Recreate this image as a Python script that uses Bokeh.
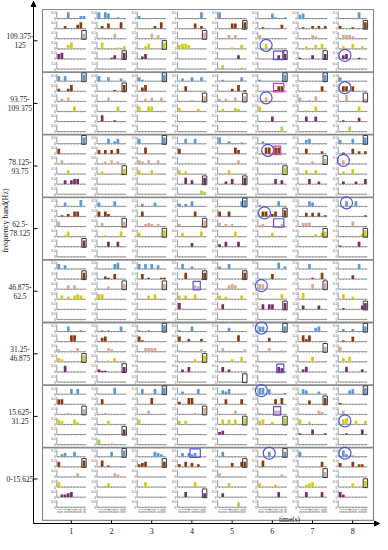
import numpy as np
from bokeh.plotting import figure
from bokeh.models import Range1d, Arrow, NormalHead
from bokeh.core.properties import value
from bokeh.embed import file_html
from bokeh.resources import INLINE

# ---------------- data ----------------
FREQ_LINE1 = ["109.375-", "93.75-", "78.125-", "62.5-", "46.875-", "31.25-", "15.625-", "0-15.625"]
FREQ_LINE2 = ["125", "109.375", "93.75", "78.125", "62.5", "46.875", "31.25", ""]
TIME_LABELS = ["1", "2", "3", "4", "5", "6", "7", "8"]
CAT_LABELS = ["0.1", "0.2", "0.3", "0.4", "0.5", "0.6", "0.7", "0.8", "0.9"]
SERIES_COLORS = ["#5b9bd5", "#8b3a12", "#d8ab98", "#d6cb1c", "#7a2c6a", "#a6d64a"]

# heights x0.1, one string per frequency band (top -> bottom), 8 groups = time 1..8, 9 bars each
BLUE = [
    "000500022 505400100 200000000 000000050 500000000 000041001 340000000 000000500",
    "404000005 400300020 310000005 020030030 010000030 100000005 000000005 300000000",
    "000000005 000402400 400000005 004004000 500200010 020000000 003400000 300040005",
    "003000050 300004000 020003000 202040000 000000045 100000400 000430000 004004000",
    "403000000 000004500 404040300 040020000 200400000 000000502 000400000 000000400",
    "000400010 010100040 100100005 100040000 000300000 440000004 000003400 020020004",
    "000040400 000005000 040004005 020000400 032400000 550400001 043000200 000340005",
    "023004000 000040005 000004320 030323000 040000000 000400004 400000000 052010000",
]
BROWN = [
    "002000350 020400050 000002050 000004020 000044005 010000030 010020202 200010005",
    "200250000 000001005 035000000 004000000 000020501 000001440 000000040 044040000",
    "400000000 303030400 005000000 400000000 000005300 005505500 004000020 010040202",
    "010204400 404200000 040000000 000004000 400400000 044024005 003030301 000000001",
    "000000005 002104000 040100011 005000005 000000005 000040000 000010050 000030000",
    "000055000 034000000 410000000 400200020 000000500 000300000 052500000 010040000",
    "440000000 040000000 000050000 200550000 004000040 000004050 000300005 100000000",
    "400000005 050100000 234000004 204030200 000030044 050000000 000000040 300040220",
]
TAN = [
    "000000004 010004000 000040300 000000005 000303000 300000000 000032000 033320000",
    "020300000 000300000 002030030 000010004 202003004 003000000 300104000 005000002",
    "030010000 002030200 320300300 000100000 000000300 000000000 000020004 030000000",
    "400000000 030000004 002320200 200000005 302020000 120000020 033300000 000040000",
    "000303000 000200004 000000004 000003200 000343000 440000000 000040005 000000000",
    "200010300 000320000 003333000 100000020 030100002 000300010 000000004 400000000",
    "000100004 001000000 000300000 000001005 000003000 100003300 000000320 030000000",
    "000000300 000003200 000000000 000000000 300000000 000000020 000000004 000000000",
]
YELLOW = [
    "000350000 050000102 002400005 344300000 000010030 004000000 002003040 020040020",
    "000004000 000000400 400440000 300000200 020003200 400000000 001004000 000000400",
    "000300000 020000004 300030000 302000000 000300000 000000005 003003000 020040000",
    "001400000 001000040 300000005 030000040 000004000 000030000 000002034 000000025",
    "030203430 440000000 000304000 303004000 302000030 100000040 050000000 040020000",
    "320000005 000103000 000000000 000002005 000020040 000000000 000040000 030400000",
    "430004200 000300000 400000000 303000000 040404005 340020005 400200000 045003003",
    "400000000 001300000 004000000 000004000 000300000 300002000 002340000 000030005",
]
PURPLE = [
    "450000000 000013005 024000000 000000000 000000300 000000304 100030004 034000100",
    "000000000 050001000 000000000 000000000 000000000 000040000 004004000 010000300",
    "003034400 000000000 000000000 005030005 002040005 000004030 000400200 020002004",
    "000000005 000400400 000000000 000030000 204000400 000000000 000000000 100000400",
    "000000000 000000000 000000000 500000000 040000000 040440005 030000300 010000035",
    "005000000 211000004 000000000 020400000 040200000 000000430 024000000 004000020",
    "000000000 000000004 000000000 000000000 230000000 000000000 100040001 001000040",
    "022340000 000000000 000000000 004000003 030000000 000000400 004000040 420000000",
]
GREEN = [
    "000000000 000000000 000000000 000000000 030000010 000000000 000000000 000000000",
    "000000000 000000000 000000000 000000000 000000000 000000040 000000000 000400000",
    "000000000 000000000 000000000 000000032 000000000 000000000 000000000 000000000",
    "000000000 000000000 000000000 000000000 000000000 000000000 000000000 000000000",
    "000000000 000000000 000000000 000000000 000000000 000000000 000000000 000000000",
    "000000000 000000000 000000000 000000000 000000000 000000000 000000000 000000000",
    "000000000 400010000 000000000 000000000 000000000 000000000 000000000 000000000",
    "000000000 000000000 000000000 000000000 000000400 000000000 000000000 000000000",
]
# row (0 blue .. 5 green) of the boxed last bar, per band, per time
BOX_ROW = ["24321441", "01022002", "03044320", "42320133",
           "12211424", "34035020", "24023310", "10141023"]
# circles: (band, time, row, bar position)
CIRCLES = [(0, 5, 3, 2), (0, 7, 4, 1.5), (1, 5, 2, 2), (1, 7, 1, 1.5), (2, 5, 1, 2.5),
           (2, 7, 2, 1), (3, 5, 1, 1.5), (3, 7, 0, 2), (4, 5, 2, 0.5), (5, 5, 0, 0.5),
           (6, 5, 0, 0.5), (6, 7, 3, 1.5), (7, 5, 0, 3), (7, 7, 0, 1.5)]
# squares: (band, time, row, first bar, last bar, colour)
SQUARES = [(0, 5, 4, 5, 7, "#5a4fe0"), (1, 5, 1, 5, 7, "#d23cd2"), (2, 5, 1, 5, 6, "#d23cd2"),
           (3, 5, 2, 5, 7, "#5a4fe0"), (4, 3, 2, 5, 6, "#5a4fe0"), (5, 5, 4, 6, 7, "#5a4fe0"),
           (6, 5, 2, 5, 6, "#5a4fe0"), (7, 3, 0, 4, 6, "#5a4fe0")]

# ---------------- layout ----------------
W, H = 380, 534
GX0, GX1, GY0 = 50, 381, 17
BAND_H = 62.6
GY1 = GY0 + 8 * BAND_H + 10
AX0, COL_W = 64.3, 40.2
ROW_H, ROW_BASE = 10.1, 9.0
CAT_OFF, CAT_STEP = 2.0, 3.15
UNIT = 12.5
OAX, OAY = 41, 531
FONT = value("Liberation Serif")

def axis_x(c):
    return AX0 + c * COL_W

def cat_x(c, k):
    return axis_x(c) + CAT_OFF + k * CAT_STEP

def base_y(b, r):
    return GY0 + b * BAND_H + ROW_BASE + r * ROW_H

p = figure(width=W, height=H, output_backend="svg", toolbar_location=None,
           x_range=Range1d(8, 8 + W), y_range=Range1d(8 + H, 8),
           min_border=0)
p.axis.visible = False
p.grid.visible = False
p.outline_line_color = None
p.background_fill_color = "white"

# grid frame and band separators
p.quad(left=[GX0], right=[GX1], top=[GY0], bottom=[GY1], fill_color=None,
       line_color="#8a8a8a", line_width=1.2)
sep_y = [GY0 + b * BAND_H for b in range(1, 8)]
p.segment(x0=[GX0] * 7, x1=[GX1] * 7, y0=sep_y, y1=sep_y, line_color="#8a8a8a", line_width=1.8)

# small sub-axes
vx, vy0, vy1, hx0, hx1, hy = [], [], [], [], [], []
tx, ty0, ty1 = [], [], []
lab_x, lab_y, lab_t = [], [], []
for b in range(8):
    for c in range(8):
        for r in range(6):
            ax = axis_x(c)
            by = base_y(b, r)
            vx.append(ax); vy0.append(by - 7.0); vy1.append(by)
            hx0.append(ax); hx1.append(cat_x(c, 8) + 2.0); hy.append(by)
            for k in range(9):
                tx.append(cat_x(c, k)); ty0.append(by); ty1.append(by + 1.0)
            lab_x += [ax - 1.0, ax - 1.0]
            lab_y += [by - 6.0, by]
            lab_t += ["0.5", "0"]
p.segment(x0=vx, x1=vx, y0=vy0, y1=vy1, line_color="#555555", line_width=0.6)
p.segment(x0=hx0, x1=hx1, y0=hy, y1=hy, line_color="#555555", line_width=0.6)
p.segment(x0=tx, x1=tx, y0=ty0, y1=ty1, line_color="#666666", line_width=0.6)
p.text(x=lab_x, y=lab_y, text=lab_t, text_font=FONT, text_font_size="3.6px",
       text_align="right", text_baseline="middle", text_color="#444444")

# bars
series = [BLUE, BROWN, TAN, YELLOW, PURPLE, GREEN]
bx, btop, bbot, bcol = [], [], [], []
for r, ser in enumerate(series):
    for b, line in enumerate(ser):
        for c, grp in enumerate(line.split()):
            for k, ch in enumerate(grp):
                v = int(ch) / 10.0
                if v > 0:
                    by = base_y(b, r)
                    bx.append(cat_x(c, k)); btop.append(by - v * UNIT); bbot.append(by)
                    bcol.append(SERIES_COLORS[r])
p.vbar(x=bx, width=2.7, top=btop, bottom=bbot, fill_color=bcol, line_color=None)

# boxes around the last bar
rx, ry = [], []
for b, rows in enumerate(BOX_ROW):
    for c, ch in enumerate(rows):
        r = int(ch)
        rx.append(cat_x(c, 8)); ry.append(base_y(b, r) - 3.8)
p.rect(x=rx, y=ry, width=4.4, height=8.8, fill_color=None, line_color="#3a3a3a", line_width=1.0)

# circles
cx = [cat_x(c, k) for (b, c, r, k) in CIRCLES]
cy = [base_y(b, r) - 3.5 for (b, c, r, k) in CIRCLES]
p.scatter(x=cx, y=cy, marker="circle", size=12, fill_color=None, line_color="#4f55dc", line_width=1.2)

# squares
sx = [cat_x(c, (k0 + k1) / 2) for (b, c, r, k0, k1, col) in SQUARES]
sy = [base_y(b, r) - 3.5 for (b, c, r, k0, k1, col) in SQUARES]
sw = [(k1 - k0) * CAT_STEP + 4.0 for (b, c, r, k0, k1, col) in SQUARES]
scol = [col for (b, c, r, k0, k1, col) in SQUARES]
p.rect(x=sx, y=sy, width=sw, height=8.5, fill_color=None, line_color=scol, line_width=1.2)

# category labels under the bottom band
clx, cly, clt = [], [], []
for c in range(8):
    for k in range(9):
        clx.append(cat_x(c, k)); cly.append(base_y(7, 5) + 1.5); clt.append(CAT_LABELS[k])
p.text(x=clx, y=cly, text=clt, angle=np.pi / 2, text_font=FONT, text_font_size="3.6px",
       text_align="right", text_baseline="middle", text_color="#444444")

# outer axes
p.add_layout(Arrow(end=NormalHead(size=5, fill_color="black", line_color="black"),
                   x_start=OAX, y_start=OAY, x_end=OAX, y_end=9, line_width=1))
p.add_layout(Arrow(end=NormalHead(size=5, fill_color="black", line_color="black"),
                   x_start=OAX, y_start=OAY, x_end=387, y_end=OAY, line_width=1))
bc = [GY0 + (b + 0.5) * BAND_H for b in range(8)]
p.segment(x0=[OAX] * 8, x1=[OAX + 4] * 8, y0=bc, y1=bc, line_color="black", line_width=1)
tcx = [axis_x(c) + 14.5 for c in range(8)]
p.segment(x0=tcx, x1=tcx, y0=[OAY] * 8, y1=[OAY - 3] * 8, line_color="black", line_width=1)

l1y = [y - 4.5 if t2 else y for y, t2 in zip(bc, FREQ_LINE2)]
l2y = [y + 4.5 for y in bc]
p.text(x=[27.5] * 8, y=l1y, text=FREQ_LINE1, text_font=FONT, text_font_size="7.5px",
       text_align="center", text_baseline="middle", text_color="#222222")
p.text(x=[27.5] * 8, y=l2y, text=FREQ_LINE2, text_font=FONT, text_font_size="7.5px",
       text_align="center", text_baseline="middle", text_color="#222222")
p.text(x=tcx, y=[538] * 8, text=TIME_LABELS, text_font=FONT, text_font_size="8px",
       text_align="center", text_baseline="middle", text_color="#222222")
p.text(x=[297], y=[527], text=["time(s)"], text_font=FONT, text_font_size="7.5px",
       text_align="center", text_baseline="middle", text_color="#222222")
p.text(x=[13], y=[228], text=["frequency band(Hz)"], angle=np.pi / 2, text_font=FONT,
       text_font_size="8px", text_align="center", text_baseline="middle", text_color="#222222")

open("out.html", "w").write(file_html(p, INLINE))
